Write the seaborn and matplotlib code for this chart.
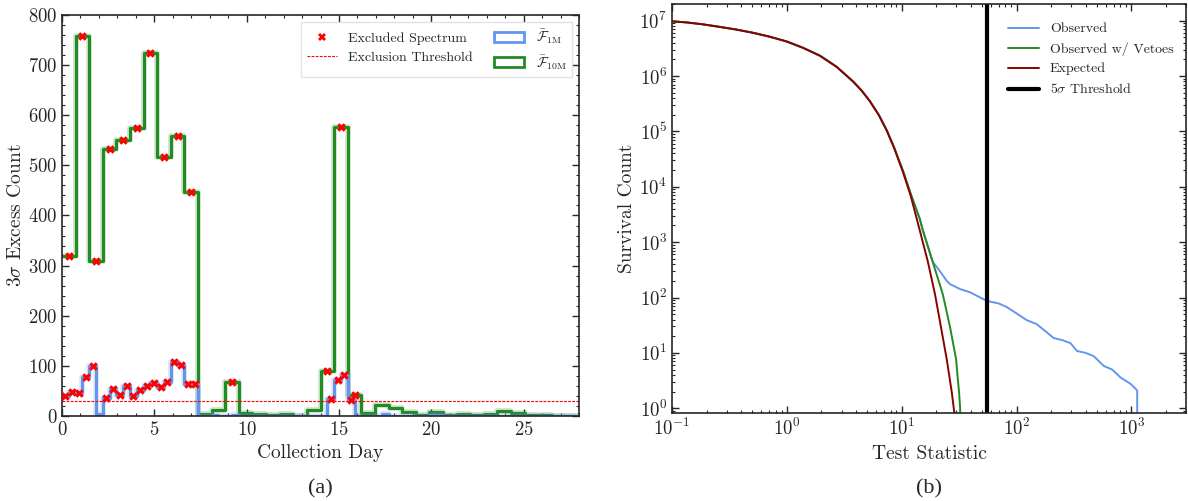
import numpy as np
import pandas as pd
import matplotlib
matplotlib.use("Agg")
import matplotlib.pyplot as plt
import matplotlib.patheffects as pe
from matplotlib.lines import Line2D
from matplotlib.patches import Patch
from matplotlib.ticker import MultipleLocator, NullFormatter
import seaborn as sns

# datos leidos de la figura
# panel (a): conteo de excesos 3 sigma por bin de dia
dia_max = 28.0
n_bins_10m = 38
n_bins_1m = 76
f10m = [320, 758, 310, 532, 550, 574, 725, 517, 558, 446,
        3, 12, 68, 5, 3, 2, 4, 0, 11, 89,
        577, 42, 5, 22, 15, 7, 2, 8, 2, 3,
        1, 3, 9, 5, 1, 2, 0, 0]
f1m = [40, 48, 45, 78, 100, 3, 35, 53, 42, 59,
       39, 51, 59, 65, 58, 67, 107, 101, 63, 63,
       0, 0, 1, 0, 0, 1, 0, 0, 0, 0,
       0, 0, 0, 0, 0, 0, 0, 0, 0, 33,
       72, 82, 31, 0, 0, 0, 0, 3, 0, 0,
       0, 0, 0, 0, 2, 2, 0, 0, 0, 0,
       0, 0, 0, 0, 0, 0, 0, 0, 0, 0,
       0, 0, 0, 0, 0, 0]
umbral_exclusion = 30

# panel (b): curvas de supervivencia
exp_x = [0.1, 0.132, 0.185, 0.259, 0.362, 0.506, 0.708, 1.0, 1.38, 1.94, 2.71,
         3.79, 4.5, 5.29, 6.3, 7.4, 8.6, 10.3, 12.0, 14.3, 16.9, 19.5, 22.0, 24.7,
         27.3, 28.7, 29.5]
exp_y = [9.7e6, 9.33e6, 8.6e6, 7.73e6, 6.92e6, 6.05e6, 5.14e6, 4.2e6, 3.24e6, 2.33e6,
         1.47e6, 7.9e5, 5.4e5, 3.5e5, 2.0e5, 1.05e5, 5.0e4, 1.8e4, 6.8e3, 1.7e3, 445,
         115, 29, 7.6, 1.95, 0.85, 0.3]
vet_x = [0.1, 0.132, 0.185, 0.259, 0.362, 0.506, 0.708, 1.0, 1.38, 1.94, 2.71,
         3.79, 4.5, 5.29, 6.3, 7.4, 8.6, 10.3, 12.0, 14.4, 15.2, 18.6, 22.8, 26.4,
         29.8, 30.8, 31.6, 32.3, 32.3]
vet_y = [9.7e6, 9.33e6, 8.6e6, 7.73e6, 6.92e6, 6.05e6, 5.14e6, 4.2e6, 3.24e6, 2.33e6,
         1.47e6, 7.9e5, 5.4e5, 3.5e5, 2.0e5, 1.05e5, 5.1e4, 1.9e4, 7.4e3, 2.6e3, 1.7e3,
         445, 115, 29, 7.6, 3.4, 1.95, 1.0, 0.3]
obs_x = [0.1, 0.132, 0.185, 0.259, 0.362, 0.506, 0.708, 1.0, 1.38, 1.94, 2.71,
         3.79, 4.5, 5.29, 6.3, 7.4, 8.6, 10.3, 12.0, 14.4, 15.2, 18.6, 21.6, 24.7,
         26.4, 32.3, 39.5, 48.3, 55, 70, 82.6, 101, 123, 150, 173, 211, 250, 295,
         337, 400, 471, 576, 681, 805, 985, 1125, 1125]
obs_y = [9.7e6, 9.33e6, 8.6e6, 7.73e6, 6.92e6, 6.05e6, 5.14e6, 4.2e6, 3.24e6, 2.33e6,
         1.47e6, 7.9e5, 5.4e5, 3.5e5, 2.0e5, 1.05e5, 5.1e4, 1.9e4, 7.4e3, 2.6e3, 1.7e3,
         445, 296, 200, 174, 142, 124, 100, 87, 78, 67, 51, 39, 33, 26, 18.5, 17,
         15, 10.8, 10, 8.7, 5.8, 5.0, 3.6, 2.76, 2.1, 0.3]
umbral_5sigma = 55

col_1m = "#6495ED"
col_10m = "#228B22"
col_exp = "#8B0000"

sns.set_style("ticks")
plt.rcParams["font.family"] = "serif"
plt.rcParams["font.serif"] = ["cmr10", "DejaVu Serif"]
plt.rcParams["mathtext.fontset"] = "cm"
plt.rcParams["axes.formatter.use_mathtext"] = True
plt.rcParams["axes.unicode_minus"] = False

fig = plt.figure(figsize=(11.88, 5.01), dpi=100)
ax1 = fig.add_axes([0.0522, 0.1697, 0.4352, 0.8004])
ax2 = fig.add_axes([0.5657, 0.1756, 0.4327, 0.8164])

# ---------- panel (a) ----------
w10 = dia_max / n_bins_10m
w1 = dia_max / n_bins_1m
c10 = (np.arange(n_bins_10m) + 0.5) * w10
c1 = (np.arange(n_bins_1m) + 0.5) * w1

df10 = pd.DataFrame({"dia": c10, "cuenta": f10m})
df1 = pd.DataFrame({"dia": c1, "cuenta": f1m})

sns.histplot(data=df10, x="dia", weights="cuenta", binwidth=w10, binrange=(0, dia_max),
             element="step", fill=False, color=col_10m, linewidth=2.2, ax=ax1)
ax1.lines[-1].set_path_effects([pe.Stroke(linewidth=4, foreground=col_10m, alpha=0.25), pe.Normal()])
sns.histplot(data=df1, x="dia", weights="cuenta", binwidth=w1, binrange=(0, dia_max),
             element="step", fill=False, color=col_1m, linewidth=2.2, ax=ax1)
ax1.lines[-1].set_path_effects([pe.Stroke(linewidth=4, foreground=col_1m, alpha=0.25), pe.Normal()])

excl = pd.concat([df10[df10["cuenta"] > umbral_exclusion], df1[df1["cuenta"] > umbral_exclusion]])
sns.scatterplot(data=excl, x="dia", y="cuenta", marker="X", color="red", s=38,
                linewidth=0, zorder=5, ax=ax1)
ax1.axhline(umbral_exclusion, color="red", linestyle=(0, (2.5, 1.2)), linewidth=0.8)

ax1.set_xlim(0, dia_max)
ax1.set_ylim(0, 800)
ax1.xaxis.set_major_locator(MultipleLocator(5))
ax1.xaxis.set_minor_locator(MultipleLocator(1))
ax1.yaxis.set_major_locator(MultipleLocator(100))
ax1.yaxis.set_minor_locator(MultipleLocator(20))
ax1.set_xlabel("Collection Day", fontsize=14)
ax1.set_ylabel(r"$3\sigma$ Excess Count", fontsize=14, labelpad=2)

handles = [
    Line2D([], [], marker="X", color="red", linestyle="none", markersize=5.5, markeredgewidth=0),
    Line2D([], [], color="red", linestyle=(0, (2.5, 1.2)), linewidth=0.8),
    Patch(facecolor="white", edgecolor=col_1m, linewidth=2),
    Patch(facecolor="white", edgecolor=col_10m, linewidth=2),
]
labels = ["Excluded Spectrum", "Exclusion Threshold",
          r"$\bar{\mathcal{F}}_{\rm 1M}$", r"$\bar{\mathcal{F}}_{\rm 10M}$"]
ax1.legend(handles, labels, ncol=2, loc="upper right", fontsize=10, fancybox=False,
           edgecolor="#dddddd", columnspacing=1.5, handlelength=2.2)

# ---------- panel (b) ----------
ax2.set_xscale("log")
ax2.set_yscale("log")
sns.lineplot(x=obs_x, y=obs_y, color=col_1m, linewidth=1.4, sort=False, estimator=None,
             label="Observed", ax=ax2)
sns.lineplot(x=vet_x, y=vet_y, color=col_10m, linewidth=1.4, sort=False, estimator=None,
             label="Observed w/ Vetoes", ax=ax2)
sns.lineplot(x=exp_x, y=exp_y, color=col_exp, linewidth=1.4, sort=False, estimator=None,
             label="Expected", ax=ax2)
ax2.axvline(umbral_5sigma, color="black", linewidth=3, label=r"5$\sigma$ Threshold")

ax2.set_xlim(0.1, 3000)
ax2.set_ylim(0.82, 2e7)
ax2.xaxis.set_minor_formatter(NullFormatter())
ax2.yaxis.set_minor_formatter(NullFormatter())
ax2.set_xlabel("Test Statistic", fontsize=14)
ax2.set_ylabel("Survival Count", fontsize=14, labelpad=2)
ax2.legend(loc="upper right", frameon=False, fontsize=10, handlelength=2.2,
           bbox_to_anchor=(1.0, 0.985))

for ax in (ax1, ax2):
    ax.tick_params(which="both", direction="in", top=True, right=True, labelsize=13.5)
    ax.tick_params(which="major", length=5, width=1)
    ax.tick_params(which="minor", length=2.5, width=0.8)
    for s in ax.spines.values():
        s.set_linewidth(1.2)

fig.text(0.27, 0.025, "(a)", ha="center", va="center", fontsize=16, family="Liberation Serif")
fig.text(0.782, 0.025, "(b)", ha="center", va="center", fontsize=16, family="Liberation Serif")

fig.savefig("out.png", dpi=100)
